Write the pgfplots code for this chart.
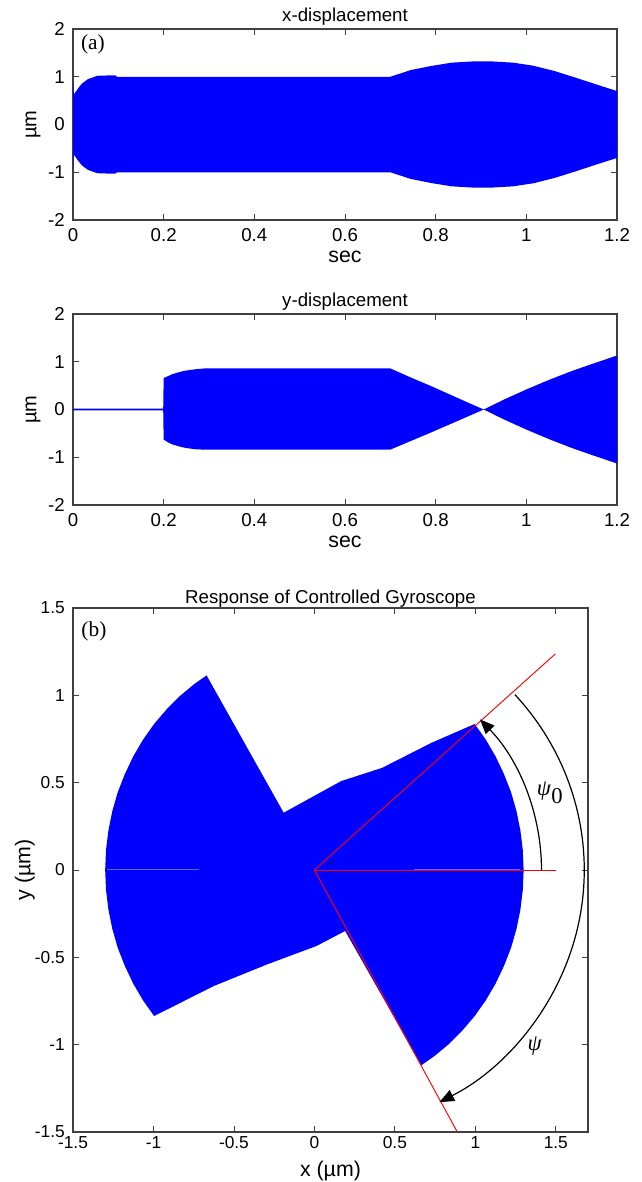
\documentclass[border=0pt]{standalone}
\usepackage{fontspec}
\setmainfont{Liberation Sans}
\newfontfamily\serif{Liberation Serif}
\usepackage{pgfplots}
\usepackage{pgfplotstable}
\pgfplotsset{compat=1.18}
\usepgfplotslibrary{fillbetween}
\usetikzlibrary{arrows.meta}

% envelope of the x-displacement (upper / lower)
\pgfplotstableread{
t     up     lo
0.000 1.000 -1.000
0.002 0.630 -0.630
0.011 0.754 -0.754
0.020 0.860 -0.860
0.033 0.950 -0.950
0.052 1.015 -1.015
0.060 1.025 -1.025
0.094 1.028 -1.028
0.097 1.000 -1.000
0.700 1.000 -1.000
0.745 1.140 -1.140
0.790 1.225 -1.225
0.835 1.295 -1.295
0.880 1.320 -1.320
0.926 1.320 -1.320
0.971 1.295 -1.295
1.016 1.230 -1.230
1.062 1.120 -1.120
1.107 0.986 -0.986
1.152 0.846 -0.846
1.200 0.700 -0.700
}\xdisp

% envelope of the y-displacement (upper / lower)
\pgfplotstableread{
t     up     lo
0.000 0.018 -0.018
0.199 0.018 -0.018
0.200 0.660 -0.630
0.210 0.700 -0.690
0.219 0.740 -0.730
0.235 0.785 -0.775
0.246 0.810 -0.800
0.260 0.830 -0.820
0.273 0.846 -0.835
0.291 0.860 -0.840
0.700 0.860 -0.840
0.750 0.650 -0.640
0.790 0.490 -0.480
0.830 0.320 -0.315
0.870 0.150 -0.150
0.906 0.000  0.000
0.950 0.205 -0.205
1.000 0.420 -0.420
1.050 0.620 -0.620
1.100 0.805 -0.805
1.150 0.970 -0.970
1.200 1.130 -1.130
}\ydisp

\pgfplotsset{
  matlab/.style={
    scale only axis,
    axis line style={black!75, line width=0.8pt},
    tick style={black!75, line width=0.6pt},
    tick align=inside,
    major tick length=4.5pt,
    /pgf/number format/assume math mode=true,
    yticklabel style={anchor=east, inner sep=0pt, xshift=-6pt},
    every axis title shift=0pt,
    title style={anchor=base, font=\fontsize{14}{16}\selectfont},
    label style={font=\fontsize{16}{18}\selectfont},
  },
  timeplot/.style={
    matlab,
    width=408pt, height=143.25pt,
    xmin=0, xmax=1.2, ymin=-2, ymax=2,
    xtick={0,0.2,...,1.2}, ytick={-2,-1,0,1,2},
    tick label style={font=\fontsize{14}{16}\selectfont},
    xticklabel style={anchor=base, inner sep=0pt, yshift=-16pt},
    title style={at={([yshift=6pt]axis description cs:0.5,1)}},
    xlabel=sec, ylabel=µm,
    xlabel style={at={([yshift=-31.5pt]axis description cs:0.5,0)}, anchor=base},
    ylabel style={at={([xshift=-27.5pt]axis description cs:0,0.5)}, anchor=base,
      font=\fontsize{15}{17}\selectfont},
  },
}

\begin{document}
\begin{tikzpicture}

% (a) x-displacement
\begin{axis}[timeplot, at={(54.75pt,-21.75pt)}, anchor=north west, title=x-displacement]
  \addplot[draw=none, name path=xu] table[x=t, y=up] {\xdisp};
  \addplot[draw=none, name path=xl] table[x=t, y=lo] {\xdisp};
  \addplot[blue] fill between[of=xu and xl];
  \node[font=\serif\fontsize{16}{18}\selectfont] at (axis cs:0.044,1.67) {(a)};
\end{axis}

% y-displacement
\begin{axis}[timeplot, at={(54.75pt,-235.5pt)}, anchor=north west, title=y-displacement]
  \addplot[draw=none, name path=yu] table[x=t, y=up] {\ydisp};
  \addplot[draw=none, name path=yl] table[x=t, y=lo] {\ydisp};
  \addplot[blue] fill between[of=yu and yl];
\end{axis}

% (b) trajectory in the x-y plane
\begin{axis}[matlab, at={(54.75pt,-456pt)}, anchor=north west,
    width=386.25pt, height=393pt,
    xmin=-1.5, xmax=1.7, ymin=-1.5, ymax=1.5,
    xtick={-1.5,-1,...,1.5}, ytick={-1.5,-1,...,1.5},
    tick label style={font=\fontsize{13}{15}\selectfont},
    xticklabel style={anchor=base, inner sep=0pt, yshift=-12pt},
    title=Response of Controlled Gyroscope,
    title style={at={([yshift=3.5pt]axis description cs:0.5,1)}},
    xlabel={x (µm)}, ylabel={y (µm)},
    xlabel style={at={([yshift=-33pt]axis description cs:0.5,0)}, anchor=base},
    ylabel style={at={([xshift=-32pt]axis description cs:0,0.5)}, anchor=base},
  ]
  \addplot[fill=blue, draw=none] coordinates {
    (0.996,0.836) (0.727,0.728) (0.421,0.585) (0.166,0.509) (-0.191,0.328)
    (-0.670,1.114) (-0.746,1.065) (-0.836,0.996) (-0.919,0.919) (-0.996,0.836)
    (-1.065,0.746) (-1.126,0.650) (-1.178,0.549) (-1.222,0.445) (-1.256,0.336)
    (-1.280,0.226) (-1.295,0.113) (-1.300,0.000) (-1.295,-0.113) (-1.280,-0.226)
    (-1.256,-0.336) (-1.222,-0.445) (-1.178,-0.549) (-1.126,-0.650) (-1.065,-0.746)
    (-0.996,-0.836)
    (-0.625,-0.664) (-0.293,-0.540) (0.013,-0.435) (0.191,-0.349)
    (0.664,-1.118) (0.746,-1.065) (0.836,-0.996) (0.919,-0.919) (0.996,-0.836)
    (1.065,-0.746) (1.126,-0.650) (1.178,-0.549) (1.222,-0.445) (1.256,-0.336)
    (1.280,-0.226) (1.295,-0.113) (1.300,0.000) (1.295,0.113) (1.280,0.226)
    (1.256,0.336) (1.222,0.445) (1.178,0.549) (1.126,0.650) (1.065,0.746)
  } -- cycle;
  % faint streaks along y = 0
  \addplot[blue!60!white, line width=0.9pt] coordinates {(-1.29,0.004) (-0.72,0.004)};
  \addplot[blue!60!white, line width=0.9pt] coordinates {(0.62,0.004) (1.28,0.004)};
  \addplot[black, line width=0.6pt] coordinates {(0.095,0.03) (0.115,0.055)};
  % red reference lines
  \addplot[red, line width=0.7pt] coordinates {(0,0) (1.498,1.238)};
  \addplot[red, line width=0.7pt] coordinates {(0,0) (1.500,0)};
  \addplot[red, line width=0.7pt] coordinates {(0,0) (0.888,-1.500)};
  % angle arrows
  \draw[black, line width=0.9pt, -{Triangle[length=11pt,width=9pt]}]
    (axis cs:1.411,0) arc[start angle=0, end angle=43.2, x radius=1.411, y radius=1.26];
  \draw[black, line width=0.9pt, -{Triangle[length=11pt,width=9pt]}]
    (axis cs:1.246,1.004) arc[start angle=42, end angle=-62.4, x radius=1.677, y radius=1.5];
  \node[font=\serif\fontsize{17}{19}\selectfont] at (axis cs:1.463,0.44)
    {\textit{ψ}\raisebox{-6pt}{0}};
  \node[font=\serif\fontsize{17}{19}\selectfont] at (axis cs:1.37,-1.007) {\textit{ψ}};
  \node[font=\serif\fontsize{16}{18}\selectfont] at (axis cs:-1.37,1.364) {(b)};
\end{axis}

\pgfresetboundingbox
\path[use as bounding box] (0,0) rectangle (481.5pt,-886.5pt);
\end{tikzpicture}
\end{document}
